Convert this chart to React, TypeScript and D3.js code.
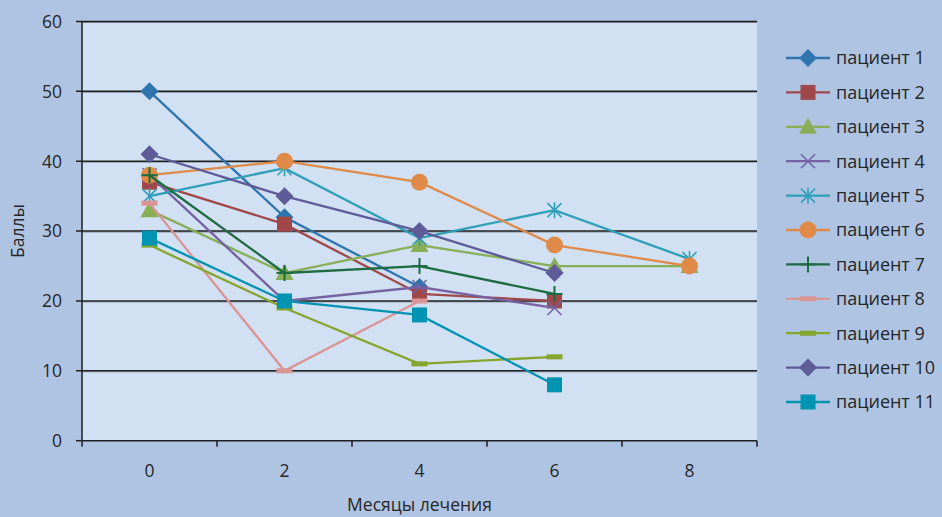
import React from "react";
import * as d3 from "d3";

const months = ["0", "2", "4", "6", "8"];
const yTicks = [0, 10, 20, 30, 40, 50, 60];
const seriesNames = [
  "пациент 1", "пациент 2", "пациент 3", "пациент 4", "пациент 5", "пациент 6",
  "пациент 7", "пациент 8", "пациент 9", "пациент 10", "пациент 11",
];
const p1 = [50, 32, 22, null, null];
const p2 = [37, 31, 21, 20, null];
const p3 = [33, 24, 28, 25, 25];
const p4 = [38, 20, 22, 19, null];
const p5 = [35, 39, 29, 33, 26];
const p6 = [38, 40, 37, 28, 25];
const p7 = [38, 24, 25, 21, null];
const p8 = [34, 10, 20, null, null];
const p9 = [28, 19, 11, 12, null];
const p10 = [41, 35, 30, 24, null];
const p11 = [29, 20, 18, 8, null];
const seriesValues = [p1, p2, p3, p4, p5, p6, p7, p8, p9, p10, p11];
const colors = [
  "#2E75AE", "#A0474A", "#88AE58", "#7562A3", "#2F9FB8", "#E08A48",
  "#1D6B40", "#D99493", "#86A52C", "#5F5B98", "#0093B2",
];
const markers = [
  "diamond", "square", "triangle", "x", "asterisk", "circle",
  "plus", "dash", "dash", "diamond", "square",
];

const W = 942, H = 517;
const plot = { left: 82, right: 757, top: 21.5, bottom: 440.7 };
const FONT = "'Open Sans', sans-serif";
const TEXT = "#262626";

function Marker({ type, x, y, color }: { type: string; x: number; y: number; color: string }) {
  switch (type) {
    case "diamond":
      return <path d={`M${x},${y - 9}L${x + 9},${y}L${x},${y + 9}L${x - 9},${y}Z`} fill={color} />;
    case "square":
      return <rect x={x - 7.5} y={y - 7.5} width={15} height={15} fill={color} />;
    case "triangle":
      return <path d={`M${x},${y - 9}L${x + 9},${y + 7}L${x - 9},${y + 7}Z`} fill={color} />;
    case "circle":
      return <circle cx={x} cy={y} r={8.5} fill={color} />;
    case "x":
      return (
        <g stroke={color} strokeWidth={1.6}>
          <line x1={x - 7} y1={y - 7} x2={x + 7} y2={y + 7} />
          <line x1={x - 7} y1={y + 7} x2={x + 7} y2={y - 7} />
        </g>
      );
    case "asterisk":
      return (
        <g stroke={color} strokeWidth={1.6}>
          <line x1={x - 7} y1={y - 7} x2={x + 7} y2={y + 7} />
          <line x1={x - 7} y1={y + 7} x2={x + 7} y2={y - 7} />
          <line x1={x} y1={y - 8} x2={x} y2={y + 8} />
        </g>
      );
    case "plus":
      return (
        <g stroke={color} strokeWidth={2}>
          <line x1={x} y1={y - 8} x2={x} y2={y + 8} />
          <line x1={x - 8} y1={y} x2={x + 8} y2={y} />
        </g>
      );
    case "dash":
      return <rect x={x - 8} y={y - 2.5} width={16} height={5} fill={color} />;
    default:
      return null;
  }
}

export default function App() {
  const x = d3.scaleBand<string>().domain(months).range([plot.left, plot.right]).padding(0);
  const cx = (m: string) => (x(m) as number) + x.bandwidth() / 2;
  const y = d3.scaleLinear().domain([0, 60]).range([plot.bottom, plot.top]);
  const line = d3
    .line<number | null>()
    .defined((d) => d !== null)
    .x((_, i) => cx(months[i]))
    .y((d) => y(d as number));

  const legendX1 = 786, legendX2 = 830, legendText = 836, legendY0 = 58, legendStep = 34.4;

  return (
    <svg width={W} height={H} style={{ position: "absolute", left: 0, top: 0 }} fontFamily={FONT}>
      <rect x={0} y={0} width={W} height={H} fill="#AFC4E3" />
      <rect x={plot.left} y={plot.top} width={plot.right - plot.left} height={plot.bottom - plot.top} fill="#D1E0F2" />
      {yTicks.map((t) => (
        <g key={t}>
          {t > 0 && <line x1={plot.left} x2={plot.right} y1={y(t) + 1} y2={y(t) + 1} stroke="#8E97A6" strokeWidth={1} />}
          <line x1={plot.left - 6} x2={t > 0 ? plot.right : plot.left} y1={y(t)} y2={y(t)} stroke="#1F1F1F" strokeWidth={1.5} />
          <text x={62} y={y(t)} dy="0.36em" textAnchor="end" fontSize={17.5} fill={TEXT}>{t}</text>
        </g>
      ))}
      <line x1={plot.left} x2={plot.left} y1={plot.top} y2={plot.bottom + 6} stroke="#1F1F1F" strokeWidth={1.5} />
      <line x1={plot.left} x2={plot.right} y1={plot.bottom} y2={plot.bottom} stroke="#1F1F1F" strokeWidth={1.5} />
      {months.map((m) => (
        <g key={m}>
          <line x1={(x(m) as number) + x.bandwidth()} x2={(x(m) as number) + x.bandwidth()} y1={plot.bottom} y2={plot.bottom + 6} stroke="#1F1F1F" strokeWidth={1.5} />
          <text x={cx(m)} y={471} dy="0.36em" textAnchor="middle" fontSize={17.5} fill={TEXT}>{m}</text>
        </g>
      ))}
      <text x={(plot.left + plot.right) / 2} y={505} dy="0.36em" textAnchor="middle" fontSize={17.5} fill={TEXT}>Месяцы лечения</text>
      <text transform={`translate(18,${(plot.top + plot.bottom) / 2}) rotate(-90)`} dy="0.36em" textAnchor="middle" fontSize={17.5} fill={TEXT}>Баллы</text>

      {seriesValues.map((vals, si) => (
        <g key={si}>
          <path d={line(vals) as string} fill="none" stroke={colors[si]} strokeWidth={2.3} />
          {vals.map((v, i) =>
            v === null ? null : <Marker key={i} type={markers[si]} x={cx(months[i])} y={y(v)} color={colors[si]} />
          )}
        </g>
      ))}

      {seriesNames.map((name, si) => {
        const ly = legendY0 + si * legendStep;
        return (
          <g key={name}>
            <line x1={legendX1} x2={legendX2} y1={ly} y2={ly} stroke={colors[si]} strokeWidth={2.3} />
            <Marker type={markers[si]} x={(legendX1 + legendX2) / 2} y={ly} color={colors[si]} />
            <text x={legendText} y={ly} dy="0.36em" fontSize={18} fill={TEXT}>{name}</text>
          </g>
        );
      })}
    </svg>
  );
}
